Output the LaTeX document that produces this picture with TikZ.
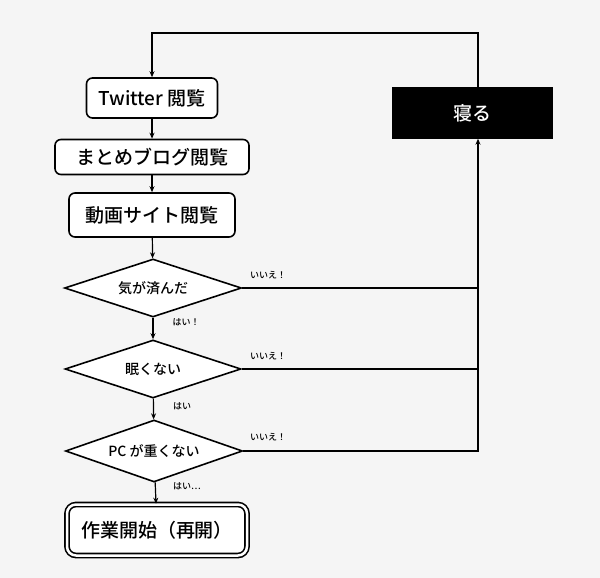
\documentclass[tikz,border=0pt]{standalone}
\usepackage{fontspec}
\setmainfont{Noto Sans CJK JP}[BoldFont={Noto Sans CJK JP Medium}]
\usetikzlibrary{shapes.geometric,arrows.meta}
\begin{document}
\begin{tikzpicture}[x=1pt,y=-1pt,
 box/.style={draw,line width=1.6pt,rounded corners=6pt,fill=white,font=\fontsize{19}{22}\selectfont\bfseries,inner sep=0pt},
 dia/.style={draw,line width=1.6pt,diamond,aspect=3,fill=white,inner sep=0pt,font=\fontsize{14}{16}\selectfont\bfseries},
 lab/.style={font=\fontsize{9}{10}\selectfont\bfseries},
 ln/.style={line width=1.2pt},
 arr/.style={line width=1.2pt,-{Stealth[length=6pt,width=5pt]}}]
\fill[black!4] (0,0) rectangle (600,578);
\useasboundingbox (0,0) rectangle (600,578);
\node[box,minimum width=131pt,minimum height=40pt] (t) at (152,98) {Twitter 閲覧};
\node[box,minimum width=194pt,minimum height=35pt] (m) at (152,157) {まとめブログ閲覧};
\node[box,minimum width=166pt,minimum height=44pt] (d) at (152,215) {動画サイト閲覧};
\node[dia,minimum width=177pt,minimum height=58pt] (q1) at (153,288) {気が済んだ};
\node[dia,minimum width=176pt,minimum height=58pt] (q2) at (153,369) {眠くない};
\node[dia,minimum width=177pt,minimum height=62pt] (q3) at (154,451) {PC が重くない};
\node[box,minimum width=180pt,minimum height=51pt,double,double distance=2.5pt,rounded corners=9pt] (w) at (157,530) {作業開始（再開）};
\node[fill=black,text=white,minimum width=161pt,minimum height=51pt,font=\fontsize{19}{22}\selectfont\bfseries] (s) at (472,113) {寝る};
\coordinate (top) at (478,33);
\draw[arr] (s.north -| top) -- (top) -| (t.north);
\draw[arr] (t) -- (m);
\draw[arr] (m) -- (d);
\draw[arr] (d) -- (q1);
\draw[arr] (q1) -- (q2);
\draw[arr] (q2) -- (q3);
\draw[arr] (q3) -- (w);
\draw[ln] (q1.east) -- (q1.east -| top);
\draw[ln] (q2.east) -- (q2.east -| top);
\draw[arr] (q3.east) -- (q3.east -| top) -- (s.south -| top);
\node[lab] (n1) at (268,275) {いいえ！};
\node[lab] (n2) at (268,356) {いいえ！};
\node[lab] (n3) at (268,437) {いいえ！};
\node[lab] (y1) at (186,322) {はい！};
\node[lab] (y2) at (182,406) {はい};
\node[lab] (y3) at (187,486) {はい…};
\end{tikzpicture}
\end{document}
